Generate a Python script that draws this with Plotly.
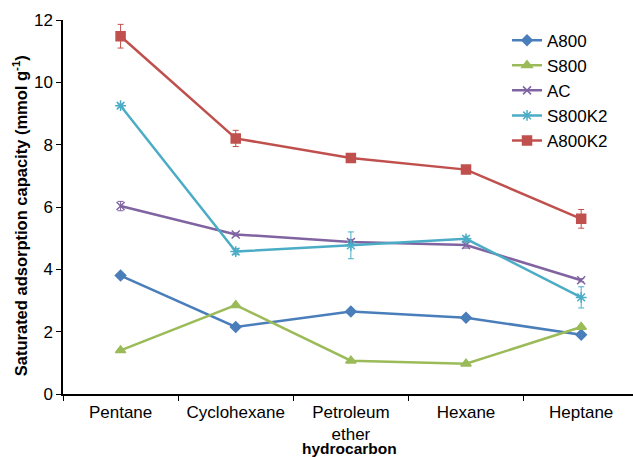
import plotly.graph_objects as go

categories = ["Pentane", "Cyclohexane", "Petroleum<br>ether", "Hexane", "Heptane"]

a800 = [3.80, 2.15, 2.65, 2.45, 1.90]
s800 = [1.40, 2.85, 1.07, 0.97, 2.15]
ac = [6.03, 5.12, 4.88, 4.78, 3.65]
s800k2 = [9.25, 4.57, 4.77, 4.98, 3.10]
a800k2 = [11.48, 8.20, 7.57, 7.20, 5.62]

a800_err = [0.04, 0.04, 0.04, 0.04, 0.04]
s800_err = [0.04, 0.04, 0.04, 0.04, 0.04]
ac_err = [0.15, 0.05, 0.08, 0.10, 0.05]
s800k2_err = [0.05, 0.10, 0.43, 0.08, 0.34]
a800k2_err = [0.38, 0.26, 0.08, 0.10, 0.30]

series = [
    ("A800", a800, a800_err, "#4a7ebb", "diamond", 8),
    ("S800", s800, s800_err, "#9bbb59", "triangle-up", 9),
    ("AC", ac, ac_err, "#8064a2", "x-thin-open", 8),
    ("S800K2", s800k2, s800k2_err, "#4bacc6", "asterisk-open", 9),
    ("A800K2", a800k2, a800k2_err, "#c0504d", "square", 9),
]

fig = go.Figure()
for name, vals, errs, color, symbol, size in series:
    fig.add_trace(go.Scatter(
        x=categories, y=vals, name=name, mode="lines+markers",
        line=dict(color=color, width=2.5),
        marker=dict(symbol=symbol, size=size, color=color,
                    line=dict(color=color, width=1.5)),
        error_y=dict(type="data", array=errs, visible=True,
                     color=color, thickness=1, width=3),
    ))

# axis titles placed as annotations so they sit where the axes need them
fig.add_annotation(
    text="<b>Saturated adsorption capacity (mmol g<sup>-1</sup>)</b>",
    xref="paper", yref="paper", x=-0.075, y=0.476, textangle=-90,
    showarrow=False, font=dict(size=16.5), xanchor="center", yanchor="middle",
)
fig.add_annotation(
    text="<b>hydrocarbon</b>",
    xref="paper", yref="paper", x=0.5035, y=0, yshift=-54,
    showarrow=False, font=dict(size=15.5), xanchor="center", yanchor="middle",
    borderpad=0,
)

fig.update_layout(
    width=633, height=457,
    margin=dict(l=63, r=0, t=20, b=63),
    plot_bgcolor="white", paper_bgcolor="white",
    font=dict(family="Liberation Sans, Arial, sans-serif", size=17, color="black"),
    showlegend=True,
    legend=dict(x=0.779, y=0.993, xanchor="left", yanchor="top",
                font=dict(size=17), itemwidth=30,
                bgcolor="rgba(0,0,0,0)"),
    xaxis=dict(
        type="category", range=[-0.5, 4.45],
        showline=True, linecolor="black", linewidth=1.5,
        ticks="outside", tickson="boundaries", ticklen=5, tickcolor="black",
        showgrid=False, zeroline=False, ticklabelstandoff=2,
        tickfont=dict(size=17),
    ),
    yaxis=dict(
        range=[0, 12], dtick=2,
        showline=True, linecolor="black", linewidth=1.5,
        ticks="outside", ticklen=5, tickcolor="black",
        showgrid=False, zeroline=False,
        tickfont=dict(size=17),
    ),
)

fig.write_html("out.html")
